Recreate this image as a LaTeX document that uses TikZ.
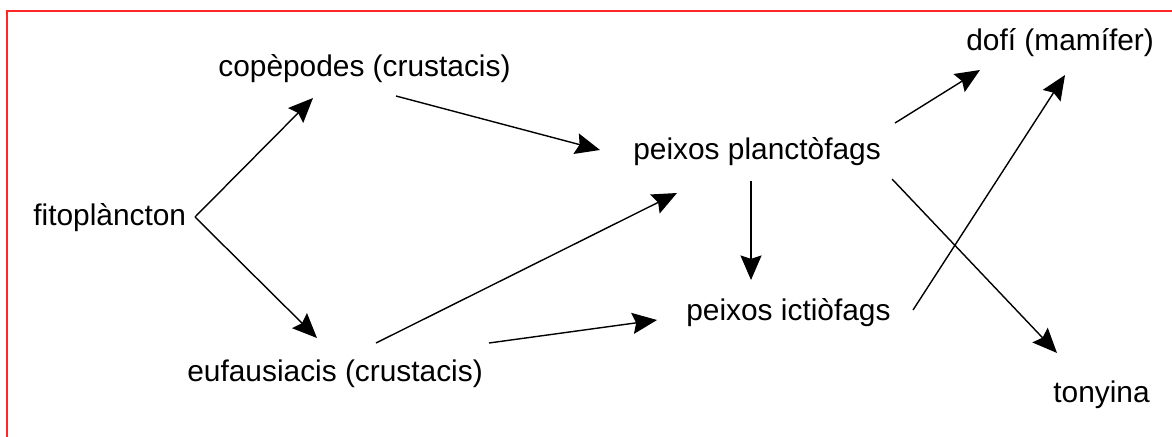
\documentclass[tikz,border=0pt]{standalone}
\usepackage{fontspec}
\setmainfont{Liberation Sans}
\usetikzlibrary{arrows.meta}

\tikzset{
  organism/.style={anchor=base west, inner sep=0pt, font=\fontsize{17pt}{20pt}\selectfont},
  feeds/.style={black, line width=0.8pt, -{Stealth[length=14pt,width=12pt,inset=2pt]}}
}

\begin{document}
\begin{tikzpicture}[x=0.02cm, y=-0.02cm]
\useasboundingbox (0,0) rectangle (1172,436);
\clip (0,0) rectangle (1172,436);
\draw [red!85!white, line width=1.4pt] (7,11) rectangle (1200,460);

\node [organism] (fito) at (33,225) {fitoplàncton};
\node [organism] (cope) at (218,76) {copèpodes (crustacis)};
\node [organism] (eufa) at (187,381) {eufausiacis (crustacis)};
\node [organism] (plan) at (633,159) {peixos planctòfags};
\node [organism] (icti) at (686,320) {peixos ictiòfags};
\node [organism] (dofi) at (966,50) {dofí (mamífer)};
\node [organism] (tony) at (1053,402) {tonyina};

\draw [feeds] ([shift={(162,-8)}]fito.base west) -- ([shift={(95,22)}]cope.base west);
\draw [feeds] ([shift={(162,-8)}]fito.base west) -- ([shift={(130,-43)}]eufa.base west);

\draw [feeds] ([shift={(178,20)}]cope.base west) -- ([shift={(-33,-9)}]plan.base west);
\draw [feeds] ([shift={(189,-38)}]eufa.base west) -- ([shift={(44,34)}]plan.base west);
\draw [feeds] ([shift={(302,-38)}]eufa.base west) -- ([shift={(-29,0)}]icti.base west);

\draw [feeds] ([shift={(118,22)}]plan.base west) -- ([shift={(65,-40)}]icti.base west);
\draw [feeds] ([shift={(262,-36)}]plan.base west) -- ([shift={(14,20)}]dofi.base west);
\draw [feeds] ([shift={(227,-10)}]icti.base west) -- ([shift={(99,25)}]dofi.base west);
\draw [feeds] ([shift={(259,20)}]plan.base west) -- ([shift={(4,-49)}]tony.base west);

\end{tikzpicture}
\end{document}
